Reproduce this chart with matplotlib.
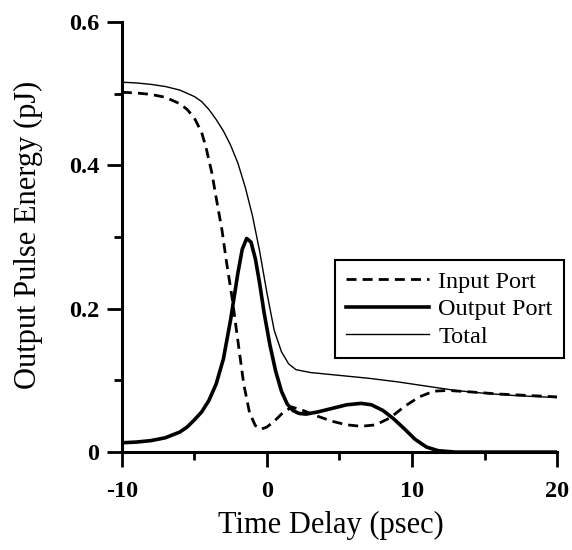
import matplotlib.pyplot as plt
from matplotlib.ticker import MultipleLocator

# values
t_input = [-10, -9, -8, -7, -6, -5.5, -5, -4.5, -4.2, -3.8, -3.5, -3.1, -2.8, -2.4, -2.0, -1.6,
           -1.2, -0.8, -0.4, 0, 0.5, 1.0, 1.7, 2.5, 3.5, 4.5, 5.5, 6.5, 7.5, 8.5, 9.5,
           10.5, 11.5, 12.5, 14, 16, 18, 20]
input_port = [0.502, 0.501, 0.499, 0.495, 0.486, 0.478, 0.466, 0.446, 0.425, 0.39, 0.355, 0.31,
              0.267, 0.215, 0.155, 0.095, 0.055, 0.037, 0.032, 0.035, 0.043, 0.053, 0.063, 0.058,
              0.05, 0.043, 0.038, 0.036, 0.038, 0.048, 0.064, 0.077, 0.085, 0.086, 0.084, 0.081,
              0.079, 0.077]

t_output = [-10, -9, -8, -7, -6, -5.5, -5, -4.5, -4, -3.5, -3, -2.5, -2, -1.7, -1.4, -1.1,
            -0.8, -0.5, -0.2, 0.2, 0.6, 1.0, 1.4, 1.8, 2.2, 2.7, 3.5, 4.5, 5.5, 6.5, 7.2,
            8, 8.7, 9.5, 10.2, 11, 11.8, 13, 15, 20]
output_port = [0.013, 0.014, 0.016, 0.02, 0.028, 0.035, 0.045, 0.056, 0.072, 0.095, 0.13,
               0.185, 0.25, 0.283, 0.298, 0.293, 0.27, 0.235, 0.195, 0.15, 0.113, 0.085, 0.067,
               0.058, 0.054, 0.053, 0.056, 0.061, 0.066, 0.068, 0.066, 0.058, 0.047, 0.032,
               0.018, 0.007, 0.002, 0.0, 0.0, 0.0]

t_total = [-10, -9, -8, -7, -6, -5, -4.5, -4, -3.5, -3, -2.5, -2, -1.5, -1, -0.5, 0, 0.5,
           1, 1.5, 2, 3, 4, 5, 7, 9, 11, 13, 15, 17, 20]
total = [0.516, 0.515, 0.513, 0.51, 0.505, 0.496, 0.489, 0.478, 0.464, 0.448, 0.428, 0.403,
         0.37, 0.33, 0.28, 0.222, 0.17, 0.14, 0.123, 0.115, 0.111, 0.109, 0.107, 0.103, 0.098,
         0.092, 0.086, 0.082, 0.079, 0.076]

x_ticks = [-10, 0, 10, 20]
y_ticks = [0, 0.2, 0.4, 0.6]
y_tick_labels = ['0', '0.2', '0.4', '0.6']

plt.rcParams['font.family'] = ['Liberation Serif', 'DejaVu Serif']

fig = plt.figure(figsize=(5.72, 5.5), dpi=100)
ax = fig.add_axes([0.213, 0.178, 0.761, 0.782])

ax.plot(t_input, input_port, color='black', lw=2.0, dashes=(3.6, 2.2), label='Input Port')
ax.plot(t_output, output_port, color='black', lw=2.6, label='Output Port')
ax.plot(t_total, total, color='black', lw=1.0, label='Total')

ax.set_xlim(-10, 20)
ax.set_ylim(0, 0.6)
ax.set_xticks(x_ticks, [str(v) for v in x_ticks])
ax.set_yticks(y_ticks, y_tick_labels)
ax.xaxis.set_minor_locator(MultipleLocator(5))
ax.yaxis.set_minor_locator(MultipleLocator(0.1))

for s in ['top', 'right']:
    ax.spines[s].set_visible(False)
for s in ['left', 'bottom']:
    ax.spines[s].set_linewidth(2.2)

ax.tick_params(which='major', direction='out', length=11, width=2, labelsize=17.5)
ax.tick_params(which='minor', direction='out', length=6, width=2)
ax.tick_params(axis='x', which='major', pad=10)
ax.tick_params(axis='y', which='major', pad=5)
for lab in ax.get_xticklabels() + ax.get_yticklabels():
    lab.set_fontweight('bold')

ax.set_xlabel('Time Delay (psec)', fontsize=22)
ax.xaxis.set_label_coords(0.48, -0.137)
ax.set_ylabel('Output Pulse Energy (pJ)', fontsize=22)
ax.yaxis.set_label_coords(-0.182, 0.505)

leg = ax.legend(loc='upper left', bbox_to_anchor=(0.49, 0.447), borderaxespad=0,
                fontsize=17.5, handlelength=3.4, handletextpad=0.4, labelspacing=0.22,
                borderpad=0.45, fancybox=False, framealpha=1, edgecolor='black')
leg.get_frame().set_linewidth(1.5)

fig.savefig('out.png', dpi=100)
